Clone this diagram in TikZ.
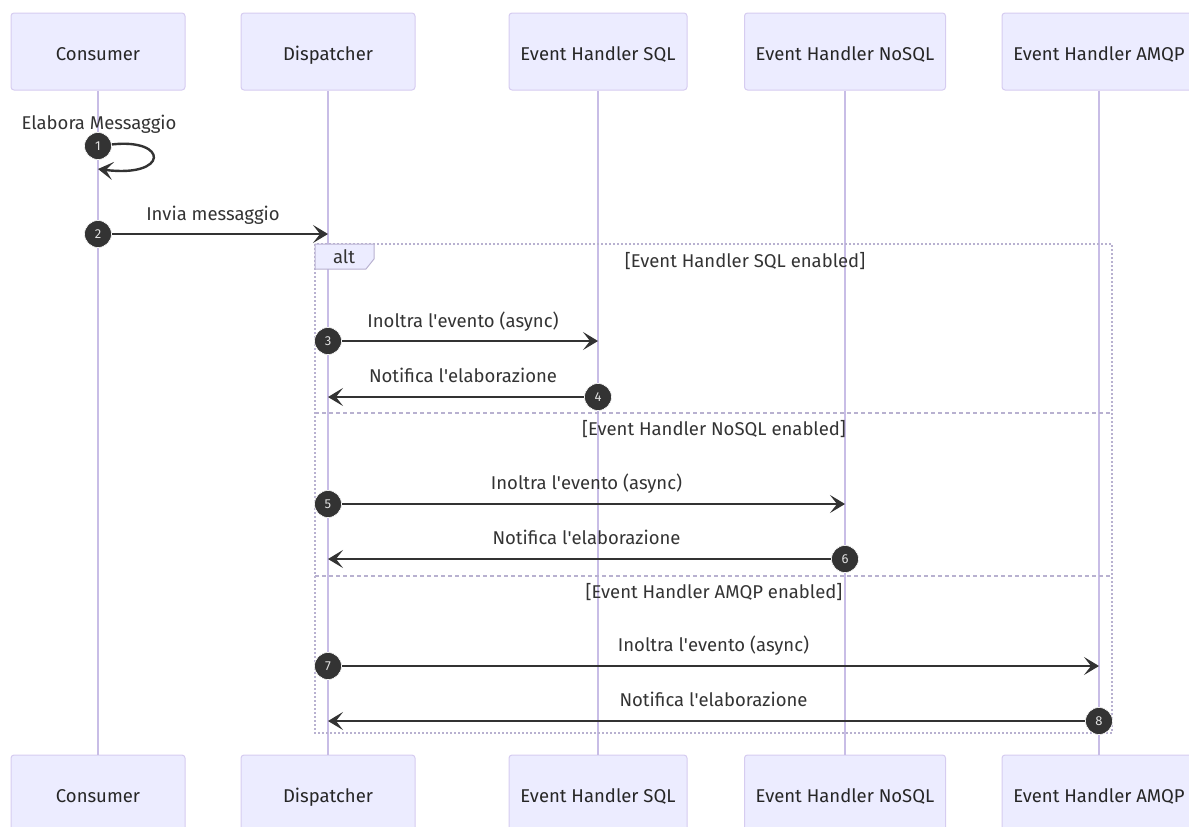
\documentclass[tikz,border=0pt]{standalone}
\usepackage{fontspec}
\setmainfont{Fira Sans}
\usetikzlibrary{arrows.meta}
\definecolor{actfill}{HTML}{ECECFF}
\definecolor{actline}{HTML}{D6CCF0}
\definecolor{lifeln}{HTML}{C8BDE6}
\definecolor{loopln}{HTML}{B8B1D0}
\definecolor{ink}{HTML}{333333}
\newcommand{\apos}{\textquotesingle}
\begin{document}
\begin{tikzpicture}[x=1pt,y=-1pt,
  actor/.style={draw=actline, line width=1pt, fill=actfill, rounded corners=3pt,
    minimum height=77pt, inner sep=0pt, text height=17pt, text depth=0pt,
    font=\fontsize{18.5}{21}\selectfont, text=black!85},
  life/.style={draw=lifeln, line width=2pt},
  msg/.style={draw=ink, line width=2.4pt, -{Stealth[length=15pt,width=18pt,inset=7pt]}},
  num/.style={circle, fill=ink, draw=white, line width=0.6pt, minimum size=27pt,
    inner sep=0pt, text=white!88!black, font=\fontsize{13}{14}\selectfont},
  lbl/.style={text=ink, font=\fontsize{18.5}{21}\selectfont, inner sep=0pt, anchor=base},
  loopbox/.style={draw=loopln, line width=1.6pt, dash pattern=on 2pt off 2pt},
  sepline/.style={draw=loopln, line width=1.6pt, dash pattern=on 4pt off 3pt},
  tabbox/.style={draw=loopln, line width=1pt, fill=actfill},
]
\useasboundingbox (0,0) rectangle (1189,827);

% participants, top row
\node[actor, minimum width=174pt] (ct) at (98,51.5) {Consumer};
\node[actor, minimum width=174pt] (dt) at (328,51.5) {Dispatcher};
\node[actor, minimum width=178pt] (st) at (598,51.5) {Event Handler SQL};
\node[actor, minimum width=201pt] (nt) at (845,51.5) {Event Handler NoSQL};
\node[actor, minimum width=194pt] (at) at (1099,51.5) {Event Handler AMQP};
% participants, bottom row
\node[actor, minimum width=174pt] (cb) at (98,793.5) {Consumer};
\node[actor, minimum width=174pt] (db) at (328,793.5) {Dispatcher};
\node[actor, minimum width=178pt] (sb) at (598,793.5) {Event Handler SQL};
\node[actor, minimum width=201pt] (nb) at (845,793.5) {Event Handler NoSQL};
\node[actor, minimum width=194pt] (ab) at (1099,793.5) {Event Handler AMQP};

% lifelines
\draw[life] (ct.south) -- (cb.north);
\draw[life] (dt.south) -- (db.north);
\draw[life] (st.south) -- (sb.north);
\draw[life] (nt.south) -- (nb.north);
\draw[life] (at.south) -- (ab.north);

% alt fragment
\draw[loopbox] (315,244) rectangle (1112,733);
\draw[sepline] (315,413) -- (1112,413);
\draw[sepline] (315,576) -- (1112,576);
\draw[tabbox] (315,244) -- (374,244) -- (374,259) -- (366,269) -- (315,269) -- cycle;
\node[lbl] (altl) at (344,263) {alt};
\node[lbl] (g1) at (745,267) {[Event Handler SQL enabled]};
\node[lbl] (g2) at (714,435) {[Event Handler NoSQL enabled]};
\node[lbl] (g3) at (714,598) {[Event Handler AMQP enabled]};

% message end points on the lifelines
\coordinate (e1) at (98,169);
\coordinate (e2) at (328,234);
\coordinate (e3) at (598,341);
\coordinate (e4) at (328,397);
\coordinate (e5) at (845,504);
\coordinate (e6) at (328,559);
\coordinate (e7) at (1099,666);
\coordinate (e8) at (328,721);

% sequence number markers (positions)
\node[num] (n1) at (98,146) {1};
\node[num] (n2) at (98,234) {2};
\node[num] (n3) at (328,341) {3};
\node[num] (n4) at (598,397) {4};
\node[num] (n5) at (328,504) {5};
\node[num] (n6) at (845,559) {6};
\node[num] (n7) at (328,666) {7};
\node[num] (n8) at (1099,721) {8};

% messages
\draw[msg] (n1) .. controls (169,138) and (169,178) .. (e1);
\draw[msg] (n2) -- (e2);
\draw[msg] (n3) -- (e3);
\draw[msg] (n4) -- (e4);
\draw[msg] (n5) -- (e5);
\draw[msg] (n6) -- (e6);
\draw[msg] (n7) -- (e7);
\draw[msg] (n8) -- (e8);

% markers drawn again above the message lines
\foreach \k in {1,...,8}
  \node[num] at (n\k) {\k};

% message labels
\node[lbl] (t1) at (99,129) {Elabora Messaggio};
\node[lbl] (t2) at (213,220) {Invia messaggio};
\node[lbl] (t3) at (463,327) {Inoltra l\apos evento (async)};
\node[lbl] (t4) at (463,382) {Notifica l\apos elaborazione};
\node[lbl] (t5) at (586.5,489) {Inoltra l\apos evento (async)};
\node[lbl] (t6) at (586.5,544) {Notifica l\apos elaborazione};
\node[lbl] (t7) at (713.5,651) {Inoltra l\apos evento (async)};
\node[lbl] (t8) at (713.5,706) {Notifica l\apos elaborazione};
\end{tikzpicture}
\end{document}
